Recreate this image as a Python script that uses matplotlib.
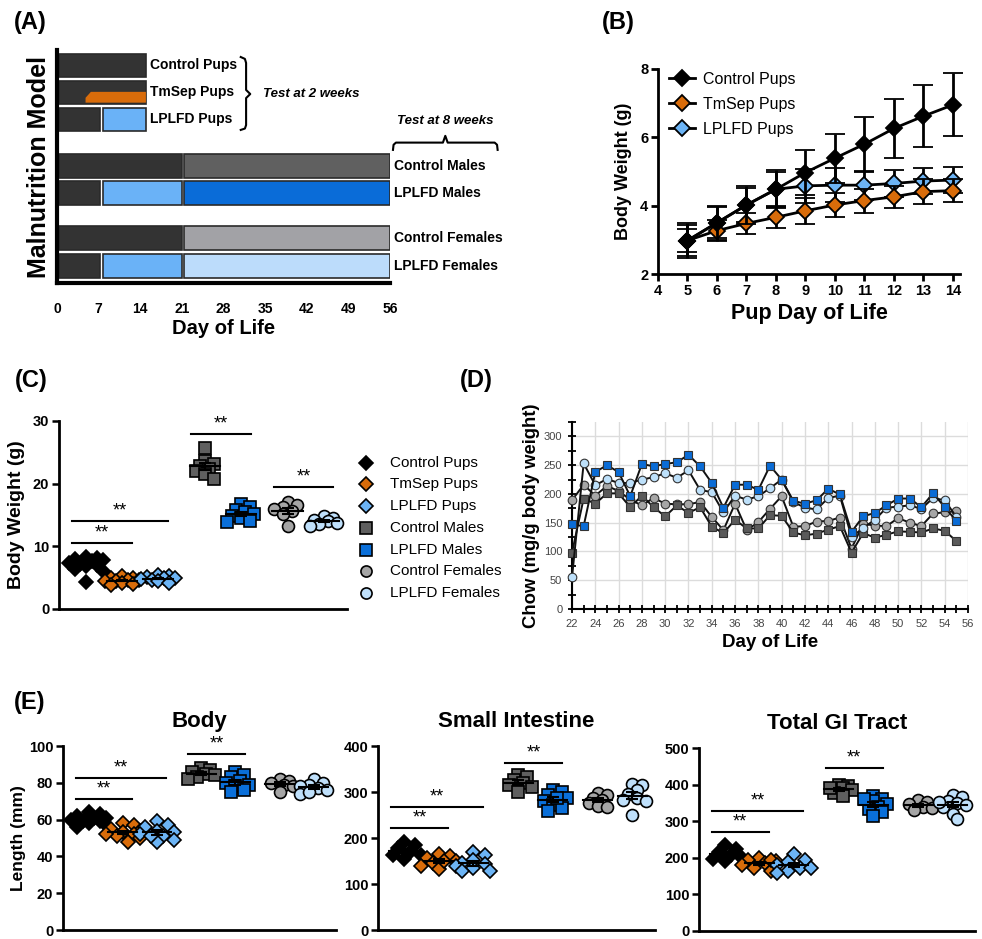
import numpy as np
import matplotlib
matplotlib.use('Agg')
import matplotlib.pyplot as plt
from matplotlib.lines import Line2D
from matplotlib.patches import Polygon
from matplotlib.ticker import MultipleLocator

plt.rcParams['font.family'] = ['Liberation Sans', 'DejaVu Sans']

W, H = 982, 939

# ---------------- data ----------------
# (A) diet schedule, days of life
a_rows = ['Control Pups', 'TmSep Pups', 'LPLFD Pups', 'Control Males', 'LPLFD Males',
          'Control Females', 'LPLFD Females']
a_phases = [
    [(0, 15, '#333333')],
    [(0, 15, '#333333')],
    [(0, 7.3, '#333333'), (7.3, 15, '#6ab2f7')],
    [(0, 21, '#333333'), (21, 56, '#606060')],
    [(0, 7.3, '#333333'), (7.3, 21, '#6ab2f7'), (21, 56, '#0a6cd8')],
    [(0, 21, '#333333'), (21, 56, '#a2a2a6')],
    [(0, 7.3, '#333333'), (7.3, 21, '#6ab2f7'), (21, 56, '#bcdcfb')],
]
a_tmsep_start = 4.8

# (B) pup body weight
b_days = np.arange(5, 15)
b_ctrl = [2.98, 3.50, 4.02, 4.48, 4.97, 5.39, 5.80, 6.26, 6.62, 6.95]
b_ctrl_err = [0.50, 0.50, 0.55, 0.55, 0.65, 0.72, 0.80, 0.87, 0.90, 0.92]
b_tmsep = [2.98, 3.27, 3.48, 3.66, 3.85, 4.02, 4.15, 4.26, 4.41, 4.44]
b_tmsep_err = [0.35, 0.30, 0.30, 0.30, 0.38, 0.35, 0.35, 0.33, 0.37, 0.33]
b_lplfd = [2.98, 3.50, 4.02, 4.48, 4.58, 4.60, 4.60, 4.65, 4.72, 4.75]
b_lplfd_err = [0.45, 0.45, 0.50, 0.50, 0.50, 0.50, 0.42, 0.40, 0.38, 0.38]

# groups for (C) and (E)
groups = ['Control Pups', 'TmSep Pups', 'LPLFD Pups', 'Control Males', 'LPLFD Males',
          'Control Females', 'LPLFD Females']
g_marker = ['D', 'D', 'D', 's', 's', 'o', 'o']
g_color = ['#000000', '#d96c0a', '#6cb4f5', '#5f5f5f', '#0a6fd9', '#a5a5a5', '#bfe0fb']

# (C) body weight (g)
c_weight = [
    [8.3, 8.2, 8.0, 7.8, 7.6, 7.4, 7.2, 7.0, 6.8, 6.4, 6.0, 4.3],
    [5.2, 5.0, 4.9, 4.7, 4.6, 4.5, 4.4, 4.2, 4.0, 3.9],
    [5.5, 5.3, 5.1, 5.0, 4.9, 4.8, 4.6, 4.4, 4.2],
    [25.7, 23.6, 23.2, 22.8, 22.4, 22.0, 21.5, 20.8],
    [16.8, 16.2, 15.8, 15.4, 15.1, 14.8, 14.5, 14.1, 13.9],
    [17.1, 16.6, 16.3, 16.0, 15.6, 15.2, 13.2],
    [14.8, 14.5, 14.2, 14.0, 13.8, 13.6, 13.3],
]
c_sig = [(0, 1, 10.5), (0, 2, 14.0), (3, 4, 27.9), (5, 6, 19.5)]

# (D) chow intake (mg/g body weight), days 22-55
d_days = np.arange(22, 56)
d_ctrl_m = [98, 192, 183, 201, 201, 177, 197, 177, 161, 180, 167, 177, 143, 132, 155, 140, 140,
            163, 162, 133, 128, 131, 138, 144, 98, 132, 124, 129, 135, 134, 133, 140, 136, 118]
d_lplfd_m = [147, 144, 238, 250, 238, 196, 252, 248, 252, 255, 268, 248, 219, 176, 216, 216, 207,
             249, 225, 188, 183, 189, 209, 199, 134, 161, 167, 180, 192, 192, 177, 201, 177, 153]
d_ctrl_f = [189, 216, 197, 214, 205, 190, 180, 193, 183, 182, 182, 186, 160, 137, 183, 137, 151,
            174, 196, 143, 144, 152, 153, 159, 105, 148, 145, 144, 158, 150, 144, 166, 168, 170]
d_lplfd_f = [55, 253, 215, 226, 219, 219, 225, 229, 236, 228, 241, 207, 203, 168, 197, 190, 196,
             210, 225, 186, 176, 173, 193, 197, 125, 141, 155, 176, 178, 180, 174, 193, 189, 160]

# (E) lengths (mm)
e_titles = ['Body', 'Small Intestine', 'Total GI Tract']
e_body = [
    [64, 63, 62, 61, 61, 60, 59, 58, 57, 56, 59],
    [58, 57, 55, 54, 53, 52, 51, 50, 48, 52],
    [59, 57, 56, 54, 53, 52, 51, 49, 48, 51],
    [88, 87, 86, 85, 84, 83, 82],
    [86, 84, 83, 81, 80, 79, 78, 76, 75],
    [82, 81, 80, 79, 78, 75],
    [82, 80, 79, 78, 77, 76, 74, 75],
]
e_si = [
    [192, 185, 178, 170, 162, 155, 162],
    [165, 160, 156, 150, 146, 140, 132, 151],
    [170, 162, 152, 146, 140, 135, 128, 144, 128],
    [338, 333, 326, 320, 315, 310, 300],
    [305, 300, 294, 287, 280, 272, 265, 258, 287],
    [298, 293, 287, 282, 276, 270, 268],
    [318, 316, 305, 296, 288, 282, 280, 250],
]
e_gi = [
    [235, 225, 215, 208, 200, 190, 197],
    [200, 195, 190, 185, 180, 172, 163, 195],
    [210, 195, 188, 180, 173, 165, 158, 171],
    [400, 395, 390, 385, 378, 370, 392],
    [370, 362, 355, 348, 340, 332, 325, 315, 360],
    [357, 352, 346, 340, 335, 330],
    [372, 365, 355, 350, 345, 340, 320, 305, 352],
]
e_ymax = [100, 400, 500]
e_ystep = [20, 100, 100]
e_sig = [
    [(0, 1, 71.3), (0, 2, 82.8), (3, 4, 95.7)],
    [(0, 1, 221), (0, 2, 267), (3, 4, 363)],
    [(0, 1, 270), (0, 2, 327), (3, 4, 446)],
]

# ---------------- helpers ----------------
fig = plt.figure(figsize=(W / 100, H / 100), dpi=100)


def px_axes(left, top, right, bottom):
    return fig.add_axes([left / W, 1 - bottom / H, (right - left) / W, (bottom - top) / H])


def swarm(vals, px_y, px_x, diam):
    # simple deterministic scatter spread, points may overlap like the GraphPad dot plots
    vals = np.asarray(vals, float)
    offs = np.zeros(len(vals))
    placed = []
    for i in np.argsort(vals)[::-1]:
        y = vals[i] * px_y
        best, best_d = 0.0, -1
        for k in [0, 1, -1, 2, -2, 3, -3]:
            x = k * diam * 0.38
            d = min([np.hypot(x - a, y - b) for a, b in placed] or [1e9])
            if d >= diam * 0.55:
                best = x
                break
            if d > best_d:
                best, best_d = x, d
        placed.append((best, y))
        offs[i] = best / px_x
    return offs


pos = [1, 2, 3, 4.3, 5.3, 6.6, 7.6]
ms_g = [7.6, 7.6, 7.6, 8.6, 8.6, 8.6, 8.6]


def dot_panel(ax, data, ymax, sigs, ax_w, ax_h):
    px_y = ax_h / ymax
    px_x = ax_w / 8.0
    for k, vals in enumerate(data):
        diam = 15 if g_marker[k] == 'D' else 12
        offs = swarm(vals, px_y, px_x, diam)
        ax.plot(pos[k] + offs, vals, ls='none', marker=g_marker[k], ms=ms_g[k],
                mfc=g_color[k], mec='k', mew=1.2, zorder=3, clip_on=False)
        m = np.mean(vals)
        se = np.std(vals, ddof=1) / np.sqrt(len(vals))
        ax.plot([pos[k] - 0.42, pos[k] + 0.42], [m, m], color='k', lw=1.5, zorder=4)
        ax.errorbar(pos[k], m, yerr=se, color='k', capsize=4, elinewidth=1.5,
                    capthick=1.5, zorder=4)
    for i, j, y in sigs:
        x1, x2 = pos[i] - 0.38, pos[j] + 0.27
        ax.plot([x1, x2], [y, y], color='k', lw=1.5, clip_on=False)
        ax.annotate('**', ((x1 + x2) / 2, y), xytext=(0, 1), textcoords='offset points',
                    ha='center', va='bottom', fontsize=13)
    ax.set_xlim(0.25, 8.25)
    ax.set_ylim(0, ymax)
    ax.set_xticks([])
    for s in ['top', 'right']:
        ax.spines[s].set_visible(False)
    for s in ['left', 'bottom']:
        ax.spines[s].set_linewidth(2)
    ax.tick_params(axis='y', length=5, width=1.8, labelsize=10.5, pad=2)


# ---------------- (A) ----------------
axA = px_axes(57, 50, 390, 283)
axA.set_xlim(0, 56)
axA.set_ylim(0, 8.63)
row_y = [8.07, 7.07, 6.07, 4.33, 3.33, 1.67, 0.63]
bar_h = 0.86
for y, phases in zip(row_y, a_phases):
    for s, e, c in phases:
        axA.barh(y, e - s - 0.45, left=s + 0.4, height=bar_h, color=c,
                 edgecolor='#2a2a2a', lw=1.2, zorder=2)
yb = row_y[1] - bar_h / 2
orange = Polygon([(a_tmsep_start, yb + 0.04), (a_tmsep_start, yb + 0.22),
                  (a_tmsep_start + 0.9, yb + 0.44), (14.95, yb + 0.44), (14.95, yb + 0.04)],
                 closed=True, facecolor='#d96c0a', edgecolor='none', zorder=3)
axA.add_patch(orange)
for k, (y, name) in enumerate(zip(row_y, a_rows)):
    x = 15.7 if k < 3 else 56.7
    axA.text(x, y, name, fontsize=10, fontweight='bold', va='center', ha='left')
# braces
bx = [30.9, 31.6, 31.8, 31.8, 32.5, 31.8, 31.8, 31.6, 30.9]
by = [8.37, 8.30, 8.15, 7.15, 7.0, 6.85, 5.85, 5.72, 5.67]
axA.plot(bx, by, color='k', lw=1.5, clip_on=False)
axA.text(34.6, 7.0, 'Test at 2 weeks', fontsize=9.5, fontweight='bold', style='italic',
         va='center', ha='left')
hx = [56.5, 56.6, 57.0, 64.9, 65.3, 65.7, 73.6, 74.0, 74.1]
hy = [4.93, 5.12, 5.2, 5.2, 5.45, 5.2, 5.2, 5.12, 4.93]
axA.plot(hx, hy, color='k', lw=1.5, clip_on=False)
axA.text(65.3, 6.0, 'Test at 8 weeks', fontsize=9.5, fontweight='bold', style='italic',
         va='center', ha='center')
axA.set_xticks(range(0, 57, 7))
axA.set_yticks([])
axA.tick_params(axis='x', length=0, pad=14, labelsize=10)
for t in axA.get_xticklabels():
    t.set_fontweight('bold')
for s in ['top', 'right']:
    axA.spines[s].set_visible(False)
for s in ['left', 'bottom']:
    axA.spines[s].set_linewidth(3)
axA.set_xlabel('Day of Life', fontsize=14.5, fontweight='bold', labelpad=2)
axA.set_ylabel('Malnutrition Model', fontsize=18, fontweight='bold', labelpad=4)

# ---------------- (B) ----------------
axB = px_axes(658, 69, 960, 274)
series_b = [(b_lplfd, b_lplfd_err, '#6cb4f5', 'LPLFD Pups'),
            (b_tmsep, b_tmsep_err, '#d96c0a', 'TmSep Pups'),
            (b_ctrl, b_ctrl_err, '#000000', 'Control Pups')]
handles = {}
for z, (vals, err, col, lab) in enumerate(series_b):
    axB.errorbar(b_days, vals, yerr=err, fmt='-D', color='k', lw=2, ms=8,
                 mfc=col, mec='k', mew=1.3, capsize=7, elinewidth=2, capthick=2,
                 zorder=3 + z, clip_on=False)
    handles[lab] = Line2D([], [], color='k', lw=2, marker='D', ms=8, mfc=col, mec='k', mew=1.3)
axB.legend([handles[k] for k in ['Control Pups', 'TmSep Pups', 'LPLFD Pups']],
           ['Control Pups', 'TmSep Pups', 'LPLFD Pups'], loc='upper left',
           bbox_to_anchor=(0.0, 1.04), frameon=False, fontsize=11.5, handlelength=1.6,
           handletextpad=0.5, labelspacing=0.62, borderaxespad=0.3)
axB.set_xlim(4, 14.24)
axB.set_ylim(2, 8)
axB.set_xticks(range(4, 15))
axB.set_yticks([2, 4, 6, 8])
for s in ['top', 'right']:
    axB.spines[s].set_visible(False)
for s in ['left', 'bottom']:
    axB.spines[s].set_linewidth(2)
axB.tick_params(length=5, width=2, labelsize=10.5, pad=2)
for t in axB.get_xticklabels() + axB.get_yticklabels():
    t.set_fontweight('bold')
axB.set_xlabel('Pup Day of Life', fontsize=15.5, fontweight='bold', labelpad=4)
axB.set_ylabel('Body Weight (g)', fontsize=13, fontweight='bold', labelpad=6)

# ---------------- (C) ----------------
axC = px_axes(59, 421, 347, 609)
dot_panel(axC, c_weight, 30, c_sig, 288, 188)
axC.set_yticks([0, 10, 20, 30])
for t in axC.get_yticklabels():
    t.set_fontweight('bold')
axC.set_ylabel('Body Weight (g)', fontsize=14, fontweight='bold', labelpad=6)
for k, name in enumerate(groups):
    yp = 462.7 + k * 21.7
    xa = (366 - 59) / 288
    ya = (609 - yp) / 188
    axC.plot([xa], [ya], transform=axC.transAxes, marker=g_marker[k], ms=ms_g[k] - 0.6,
             mfc=g_color[k], mec='k', mew=1.2, ls='none', clip_on=False)
    axC.text((390 - 59) / 288, ya, name, transform=axC.transAxes, fontsize=11,
             va='center', ha='left')

# ---------------- (D) ----------------
axD = px_axes(572, 422, 968, 609)
d_series = [(d_ctrl_f, 'o', '#a6a6a6', 6.2), (d_ctrl_m, 's', '#5a5a5a', 6.0),
            (d_lplfd_f, 'o', '#bde0fa', 6.2), (d_lplfd_m, 's', '#0a6cd6', 6.0)]
for vals, mk, col, ms in d_series:
    axD.plot(d_days, vals, '-', color='#111111', lw=1.4, marker=mk, ms=ms, mfc=col,
             mec='#333333', mew=0.8, zorder=3, clip_on=False)
axD.set_xlim(22, 56)
axD.set_ylim(0, 325)
axD.set_xticks(range(22, 57, 2))
axD.xaxis.set_minor_locator(MultipleLocator(1))
axD.set_yticks(range(0, 301, 50))
axD.yaxis.set_minor_locator(MultipleLocator(25))
axD.grid(which='major', color='#dcdcdc', lw=1)
axD.set_axisbelow(True)
for s in ['top', 'right']:
    axD.spines[s].set_visible(False)
for s in ['left', 'bottom']:
    axD.spines[s].set_linewidth(1.5)
axD.tick_params(which='both', direction='inout', length=6, width=1.3, labelsize=8,
                labelcolor='#444444', pad=4)
axD.set_xlabel('Day of Life', fontsize=13.5, fontweight='bold', labelpad=4)
axD.set_ylabel('Chow (mg/g body weight)', fontsize=13.3, fontweight='bold', labelpad=3)

# ---------------- (E) ----------------
e_boxes = [(63, 746, 336, 930), (378, 746, 655, 930), (699, 748, 975, 931)]
for k, (data, ymax, step, sigs, title, box) in enumerate(zip(
        [e_body, e_si, e_gi], e_ymax, e_ystep, e_sig, e_titles, e_boxes)):
    ax = px_axes(*box)
    dot_panel(ax, data, ymax, sigs, box[2] - box[0], box[3] - box[1])
    ax.set_yticks(np.arange(0, ymax + 1, step))
    for t in ax.get_yticklabels():
        t.set_fontweight('bold')
    ax.set_title(title, fontsize=16, fontweight='bold', pad=14)
    if k == 0:
        ax.set_ylabel('Length (mm)', fontsize=12.5, fontweight='bold', labelpad=2)

# panel letters
for lab, (x, y) in zip(['(A)', '(B)', '(C)', '(D)', '(E)'],
                       [(30, 23), (618, 23), (31, 381), (476, 381), (30, 702)]):
    fig.text(x / W, 1 - y / H, lab, fontsize=17, fontweight='bold', ha='center', va='center')

fig.savefig('out.png', dpi=100)
